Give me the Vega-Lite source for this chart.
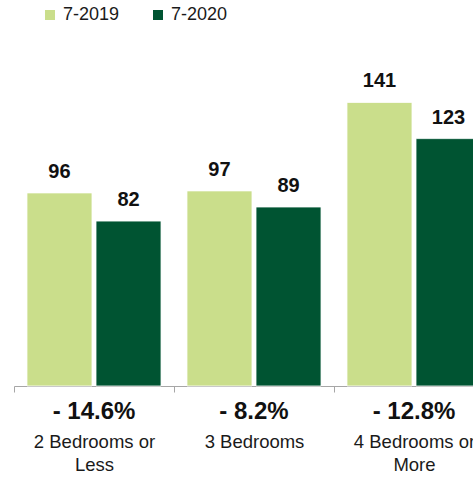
{
  "$schema": "https://vega.github.io/schema/vega-lite/v6.json",
  "width": 480,
  "height": 356,
  "autosize": {"type": "none"},
  "padding": {"left": 14, "top": 30, "right": 0, "bottom": 91},
  "config": {"view": {"stroke": null}, "font": "Liberation Sans"},
  "data": {
    "values": [
      {"cat": "2 Bedrooms or Less", "year": "7-2019", "value": 96, "change": "- 14.6%"},
      {"cat": "2 Bedrooms or Less", "year": "7-2020", "value": 82, "change": "- 14.6%"},
      {"cat": "3 Bedrooms", "year": "7-2019", "value": 97, "change": "- 8.2%"},
      {"cat": "3 Bedrooms", "year": "7-2020", "value": 89, "change": "- 8.2%"},
      {"cat": "4 Bedrooms or More", "year": "7-2019", "value": 141, "change": "- 12.8%"},
      {"cat": "4 Bedrooms or More", "year": "7-2020", "value": 123, "change": "- 12.8%"}
    ]
  },
  "encoding": {
    "x": {
      "field": "cat",
      "type": "nominal",
      "sort": null,
      "scale": {"paddingInner": 0, "paddingOuter": 0},
      "axis": {
        "title": null,
        "orient": "bottom",
        "labelAngle": 0,
        "domainColor": "#a6a6a6",
        "tickColor": "#a6a6a6",
        "tickBand": "extent",
        "tickSize": 6,
        "labelFont": "Liberation Sans",
        "labelFontSize": 18.5,
        "labelColor": "#1a1a1a",
        "labelPadding": 40,
        "labelLineHeight": 23,
        "labelExpr": "datum.value == '2 Bedrooms or Less' ? ['2 Bedrooms or', 'Less'] : datum.value == '4 Bedrooms or More' ? ['4 Bedrooms or', 'More'] : datum.value"
      }
    },
    "y": {
      "field": "value",
      "type": "quantitative",
      "scale": {"domain": [0, 177]},
      "axis": null
    }
  },
  "layer": [
    {
      "mark": {"type": "bar", "stroke": "white", "strokeWidth": 0.8},
      "encoding": {
        "xOffset": {"field": "year", "type": "nominal", "sort": null, "scale": {"paddingInner": 0.058, "paddingOuter": 0.188}},
        "color": {
          "field": "year",
          "type": "nominal",
          "scale": {"domain": ["7-2019", "7-2020"], "range": ["#cade8b", "#005432"]},
          "legend": {
            "title": null,
            "orient": "none",
            "legendX": 27,
            "legendY": -24,
            "direction": "horizontal",
            "symbolType": "square",
            "symbolSize": 100,
            "symbolStrokeWidth": 0,
            "labelFont": "Liberation Sans",
            "labelFontSize": 18,
            "labelColor": "#1a1a1a",
            "labelOffset": 4,
            "columnPadding": 29
          }
        }
      }
    },
    {
      "mark": {"type": "text", "baseline": "alphabetic", "dy": -15, "fontSize": 20, "fontWeight": "bold", "color": "#111111"},
      "encoding": {
        "xOffset": {"field": "year", "type": "nominal", "sort": null},
        "text": {"field": "value", "type": "quantitative"}
      }
    },
    {
      "transform": [{"filter": "datum.year == '7-2019'"}],
      "mark": {"type": "text", "baseline": "top", "dy": 14, "fontSize": 24, "fontWeight": "bold", "color": "#111111"},
      "encoding": {
        "y": {"datum": 0, "type": "quantitative"},
        "text": {"field": "change", "type": "nominal"}
      }
    }
  ]
}
